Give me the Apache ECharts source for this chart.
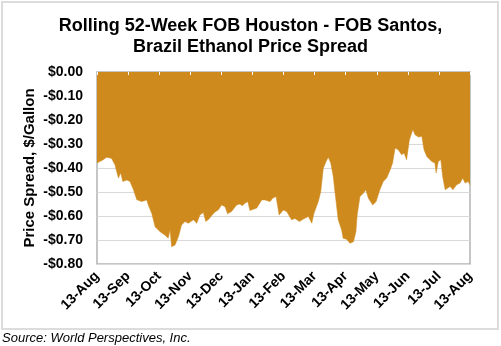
<!DOCTYPE html>
<html>
<head>
<meta charset="utf-8">
<script src="https://cdn.jsdelivr.net/npm/echarts@6/dist/echarts.min.js"></script>
<style>html,body{margin:0;padding:0;background:#fff;}#c{width:501px;height:346px;}</style>
</head>
<body>
<div id="c"></div>
<script>
// Tick labels for the month axis (position 0..12)
var tickLabels = ['13-Aug','13-Sep','13-Oct','13-Nov','13-Dec','13-Jan','13-Feb','13-Mar','13-Apr','13-May','13-Jun','13-Jul','13-Aug'];
// Time position in months since 13-Aug
var months = [0,0.20,0.31,0.47,0.58,0.63,0.69,0.76,0.83,0.96,1.06,1.17,1.28,1.44,1.60,1.65,1.76,1.87,2.03,2.19,2.29,2.35,2.40,2.51,2.62,2.72,2.83,2.94,3.10,3.21,3.31,3.42,3.50,3.60,3.74,3.82,3.90,4.01,4.12,4.20,4.33,4.49,4.60,4.67,4.76,4.85,4.92,5.14,5.30,5.40,5.57,5.65,5.76,5.86,5.99,6.10,6.26,6.37,6.51,6.64,6.80,6.91,6.98,7.12,7.20,7.28,7.37,7.44,7.52,7.60,7.66,7.76,7.87,7.92,8.03,8.14,8.25,8.33,8.37,8.46,8.57,8.65,8.73,8.87,8.98,9.10,9.21,9.32,9.43,9.51,9.59,9.69,9.80,9.88,9.96,10.05,10.16,10.23,10.34,10.45,10.52,10.61,10.77,10.87,10.91,10.98,11.06,11.12,11.20,11.36,11.45,11.57,11.68,11.77,11.84,11.94,12.00];
// Price spread, $/gallon
var spread = [-0.379,-0.366,-0.355,-0.36,-0.387,-0.414,-0.442,-0.42,-0.456,-0.45,-0.456,-0.49,-0.532,-0.54,-0.533,-0.554,-0.589,-0.645,-0.666,-0.68,-0.693,-0.658,-0.728,-0.721,-0.686,-0.638,-0.623,-0.63,-0.616,-0.63,-0.596,-0.585,-0.623,-0.613,-0.591,-0.581,-0.575,-0.554,-0.561,-0.591,-0.581,-0.554,-0.55,-0.557,-0.547,-0.54,-0.577,-0.567,-0.533,-0.533,-0.54,-0.526,-0.519,-0.596,-0.575,-0.581,-0.616,-0.61,-0.623,-0.613,-0.602,-0.63,-0.589,-0.54,-0.498,-0.401,-0.373,-0.355,-0.379,-0.435,-0.505,-0.616,-0.658,-0.693,-0.697,-0.714,-0.707,-0.666,-0.596,-0.519,-0.505,-0.491,-0.526,-0.554,-0.54,-0.491,-0.456,-0.442,-0.408,-0.379,-0.317,-0.324,-0.345,-0.338,-0.366,-0.283,-0.24,-0.261,-0.271,-0.268,-0.324,-0.352,-0.373,-0.379,-0.421,-0.373,-0.366,-0.435,-0.491,-0.477,-0.491,-0.47,-0.463,-0.442,-0.463,-0.456,-0.47];

var data = months.map(function (m, i) { return [m, spread[i]]; });
var FONT = 'Liberation Sans, Arial, sans-serif';
var chart = echarts.init(document.getElementById('c'), null, {renderer: 'canvas'});
chart.setOption({
  animation: false,
  backgroundColor: '#fff',
  title: {
    text: 'Rolling 52-Week FOB Houston - FOB Santos,\nBrazil Ethanol Price Spread',
    left: 'center', top: 11,
    textStyle: {fontFamily: FONT, fontSize: 18, fontWeight: 'bold', color: '#000', lineHeight: 21}
  },
  grid: {left: 97, right: 31, top: 72, bottom: 82, show: true, borderColor: '#b3b3b3', borderWidth: 1.5, backgroundColor: 'transparent'},
  xAxis: [{
    type: 'value', min: 0, max: 12, interval: 1, position: 'bottom',
    axisLine: {show: false, onZero: false}, axisTick: {show: false}, splitLine: {show: false},
    axisLabel: {rotate: 45, margin: 10, fontFamily: FONT, fontSize: 14, fontWeight: 'bold', color: '#000',
      formatter: function (v) { return tickLabels[Math.round(v)]; }}
  }, {
    type: 'value', min: 0, max: 12, interval: 1, position: 'top', z: 10,
    axisLine: {show: false}, axisLabel: {show: false}, splitLine: {show: false},
    axisTick: {show: true, inside: true, length: 3, lineStyle: {color: '#fff', width: 1}}
  }],
  yAxis: {
    type: 'value', min: -0.8, max: 0, interval: 0.1,
    name: 'Price Spread, $/Gallon', nameLocation: 'middle', nameGap: 60, nameRotate: 90, nameMoveOverlap: false,
    nameTextStyle: {fontFamily: FONT, fontSize: 15, fontWeight: 'bold', color: '#000'},
    axisLine: {show: false}, axisTick: {show: false},
    splitLine: {lineStyle: {color: '#d9d9d9', width: 1}},
    axisLabel: {margin: 14, fontFamily: FONT, fontSize: 14, fontWeight: 'bold', color: '#000',
      formatter: function (v) { return (v < -1e-9 ? '-' : '') + '$' + Math.abs(v).toFixed(2); }}
  },
  series: [{
    type: 'line', data: data, showSymbol: false, symbol: 'none',
    lineStyle: {width: 0.5, color: '#CF8A1E'},
    areaStyle: {color: '#CF8A1E', opacity: 1}
  }],
  graphic: [
    {type: 'rect', shape: {x: 2, y: 2, width: 496, height: 327}, style: {fill: 'none', stroke: '#dcdcdc', lineWidth: 2}, z: 100},
    {type: 'text', left: 2, top: 332, style: {text: 'Source: World Perspectives, Inc.', font: 'italic 13px Liberation Sans, Arial, sans-serif', fill: '#000'}}
  ]
});
</script>
</body>
</html>
